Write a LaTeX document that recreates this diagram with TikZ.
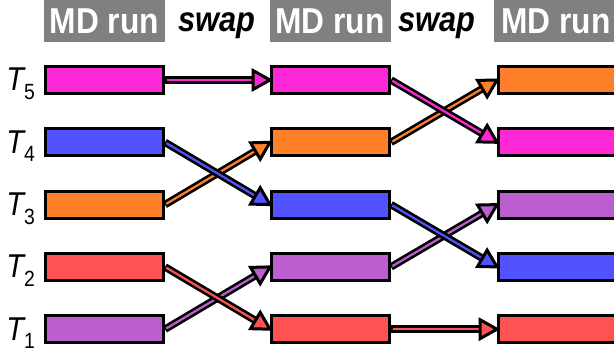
\documentclass[tikz,border=0pt]{standalone}
\usepackage{fontspec}
\setmainfont{Liberation Sans}
\newfontfamily\narrowsans[FakeStretch=0.88]{Liberation Sans}
\usetikzlibrary{calc}
\definecolor{cmag}{RGB}{255,40,214}
\definecolor{cblue}{RGB}{82,82,255}
\definecolor{corange}{RGB}{255,128,40}
\definecolor{cred}{RGB}{255,82,82}
\definecolor{cpurple}{RGB}{186,94,208}
\definecolor{chdr}{RGB}{128,128,128}
\newcommand{\swaparrow}[3]{%
  \draw[line width=7.5pt, shorten >=14pt] (#1.east) -- (#2.west);
  \draw[line width=2.2pt, #3, shorten >=14pt, shorten <=1.5pt] (#1.east) -- (#2.west);
  \coordinate (tip) at (#2.west);
  \coordinate (base) at ($(#2.west)!17pt!(#1.east)$);
  \filldraw[fill=#3, draw=black, line width=3pt, line join=miter] (tip) -- ($(base)!9.5pt!90:(tip)$) -- ($(base)!9.5pt!-90:(tip)$) -- cycle;}
\begin{document}
\begin{tikzpicture}[x=1pt, y=-1pt,
  hdr/.style={fill=chdr, text=white, font=\narrowsans\fontsize{36}{36}\selectfont\bfseries, minimum width=121pt, minimum height=42pt, inner sep=0pt},
  swp/.style={anchor=base, font=\narrowsans\fontsize{35}{35}\selectfont\bfseries\itshape, inner sep=0pt},
  box/.style={draw=black, line width=3pt, minimum width=118pt, minimum height=27pt, inner sep=0pt},
  wbox/.style={box, minimum width=125pt},
  lbl/.style={anchor=base east, inner sep=0pt, font=\narrowsans\fontsize{33}{33}\selectfont}]
\useasboundingbox (0,0) rectangle (614,353);
% headers
\node[hdr] (h1) at (104.5,21) {MD run};
\node[swp] (s1) at (217,32) {swap};
\node[hdr] (h2) at (330,21) {MD run};
\node[swp] (s2) at (437,32) {swap};
\node[hdr, minimum width=124pt] (h3) at (556,21) {MD run};
% labels
\foreach \i/\y in {5/80, 4/142.3, 3/204.6, 2/266.9, 1/329.2}
  \node[lbl] (t\i) at (35,\y+11) {\itshape T\raisebox{-8.5pt}{\upshape\fontsize{22}{22}\selectfont \i}};
% column 1
\node[box, fill=cmag]    (a5) at (104.5,80) {};
\node[box, fill=cblue]   (a4) at (104.5,142.3) {};
\node[box, fill=corange] (a3) at (104.5,204.6) {};
\node[box, fill=cred]    (a2) at (104.5,266.9) {};
\node[box, fill=cpurple] (a1) at (104.5,329.2) {};
% column 2
\node[box, fill=cmag]    (b5) at (330.5,80) {};
\node[box, fill=corange] (b4) at (330.5,142.3) {};
\node[box, fill=cblue]   (b3) at (330.5,204.6) {};
\node[box, fill=cpurple] (b2) at (330.5,266.9) {};
\node[box, fill=cred]    (b1) at (330.5,329.2) {};
% column 3
\node[wbox, fill=corange] (c5) at (561,80) {};
\node[wbox, fill=cmag]    (c4) at (561,142.3) {};
\node[wbox, fill=cpurple] (c3) at (561,204.6) {};
\node[wbox, fill=cblue]   (c2) at (561,266.9) {};
\node[wbox, fill=cred]    (c1) at (561,329.2) {};
% arrows, first swap
\swaparrow{a5}{b5}{cmag}
\swaparrow{a3}{b4}{corange}
\swaparrow{a1}{b2}{cpurple}
\swaparrow{a4}{b3}{cblue}
\swaparrow{a2}{b1}{cred}
% arrows, second swap
\swaparrow{b4}{c5}{corange}
\swaparrow{b2}{c3}{cpurple}
\swaparrow{b5}{c4}{cmag}
\swaparrow{b3}{c2}{cblue}
\swaparrow{b1}{c1}{cred}
\end{tikzpicture}
\end{document}
